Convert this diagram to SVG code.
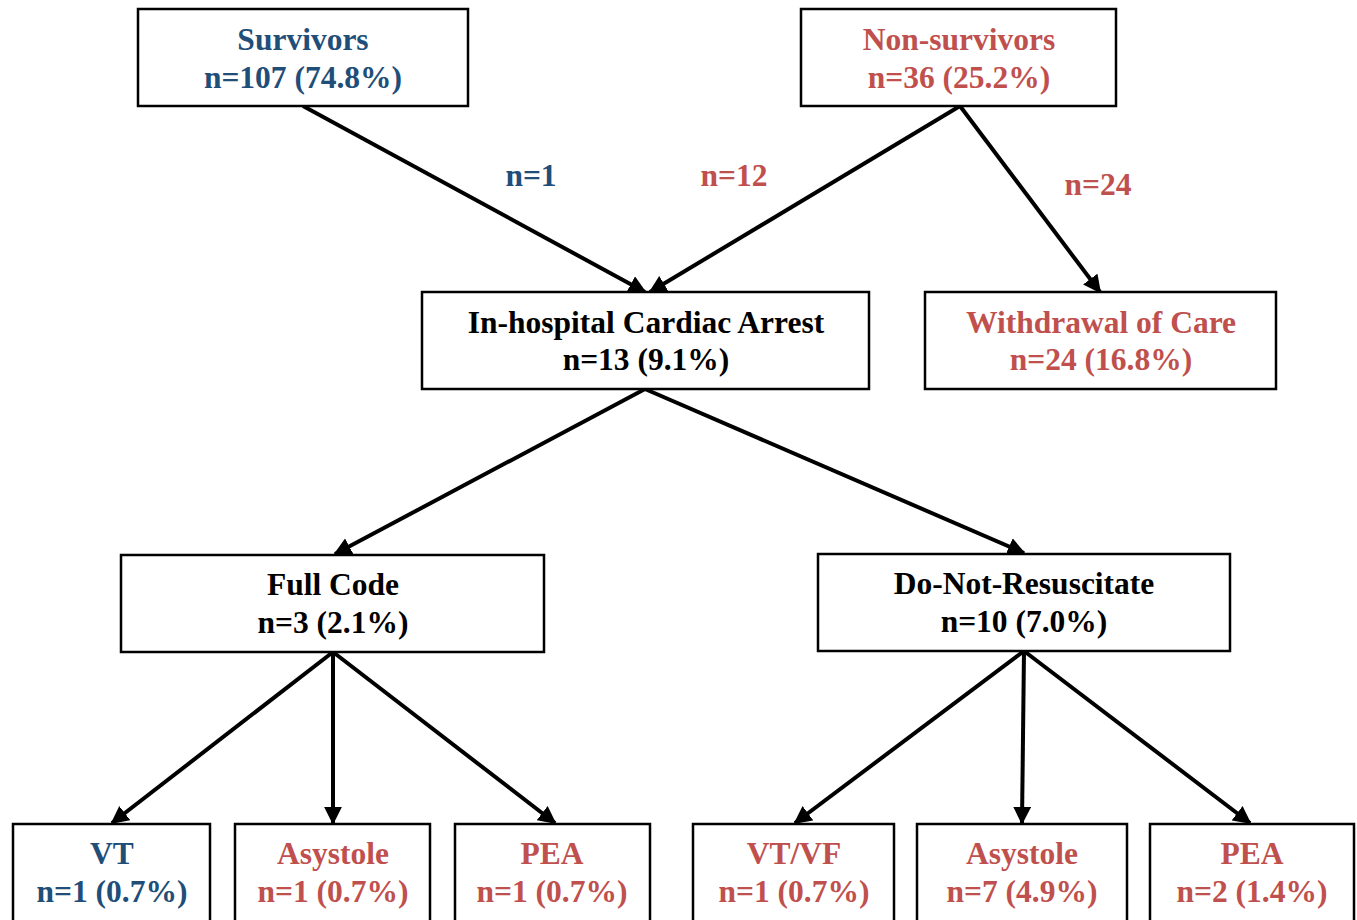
<svg xmlns="http://www.w3.org/2000/svg" width="1357" height="920" viewBox="0 0 1357 920">
<defs>
<marker id="ah" viewBox="0 0 10 10" refX="9" refY="5" markerWidth="4.5" markerHeight="4.5" orient="auto" markerUnits="strokeWidth">
<path d="M0,0 L10,5 L0,10 z" fill="#000"/>
</marker>
<style>
rect{fill:#fff;stroke:#000;stroke-width:2.5}
text{font-family:"Liberation Serif","Times New Roman",serif;font-weight:bold;font-size:31.5px;text-anchor:middle}
.b{fill:#1f4e79}
.r{fill:#c0504d}
.k{fill:#000}
#connectors line{stroke:#000;stroke-width:4;marker-end:url(#ah)}
</style>
</defs>
<rect x="0" y="0" width="1357" height="920" style="fill:#fff;stroke:none"/>
<g id="connectors">
<line x1="303" y1="106" x2="645" y2="292"/>
<line x1="960" y1="106" x2="650" y2="292"/>
<line x1="960" y1="106" x2="1100" y2="292"/>
<line x1="645" y1="389" x2="335" y2="554"/>
<line x1="645" y1="389" x2="1024" y2="553"/>
<line x1="333" y1="652" x2="112" y2="823"/>
<line x1="333" y1="652" x2="333" y2="823"/>
<line x1="333" y1="652" x2="555" y2="823"/>
<line x1="1024" y1="651" x2="795" y2="823"/>
<line x1="1024" y1="651" x2="1022" y2="823"/>
<line x1="1024" y1="651" x2="1250" y2="823"/>
<text class="b" x="531" y="186">n=1</text>
<text class="r" x="734" y="186">n=12</text>
<text class="r" x="1098" y="195">n=24</text>
</g>
<g id="survivors"><rect x="138" y="9" width="330" height="97"/><text class="b" x="303" y="50">Survivors</text><text class="b" x="303" y="88">n=107 (74.8%)</text></g>
<g id="nonsurvivors"><rect x="801" y="9" width="315" height="97"/><text class="r" x="959" y="50">Non-survivors</text><text class="r" x="959" y="88">n=36 (25.2%)</text></g>
<g id="ihca"><rect x="422" y="292" width="447" height="97"/><text class="k" x="646" y="333">In-hospital Cardiac Arrest</text><text class="k" x="646" y="370">n=13 (9.1%)</text></g>
<g id="withdrawal"><rect x="925" y="292" width="351" height="97"/><text class="r" x="1101" y="333">Withdrawal of Care</text><text class="r" x="1101" y="370">n=24 (16.8%)</text></g>
<g id="fullcode"><rect x="121" y="555" width="423" height="97"/><text class="k" x="333" y="595">Full Code</text><text class="k" x="333" y="633">n=3 (2.1%)</text></g>
<g id="dnr"><rect x="818" y="554" width="412" height="97"/><text class="k" x="1024" y="594">Do-Not-Resuscitate</text><text class="k" x="1024" y="632">n=10 (7.0%)</text></g>
<g id="vt"><rect x="13" y="824" width="197" height="110"/><text class="b" x="112" y="864">VT</text><text class="b" x="112" y="902">n=1 (0.7%)</text></g>
<g id="asys1"><rect x="235" y="824" width="195" height="110"/><text class="r" x="333" y="864">Asystole</text><text class="r" x="333" y="902">n=1 (0.7%)</text></g>
<g id="pea1"><rect x="455" y="824" width="195" height="110"/><text class="r" x="552" y="864">PEA</text><text class="r" x="552" y="902">n=1 (0.7%)</text></g>
<g id="vtvf"><rect x="693" y="824" width="201" height="110"/><text class="r" x="794" y="864">VT/VF</text><text class="r" x="794" y="902">n=1 (0.7%)</text></g>
<g id="asys2"><rect x="917" y="824" width="210" height="110"/><text class="r" x="1022" y="864">Asystole</text><text class="r" x="1022" y="902">n=7 (4.9%)</text></g>
<g id="pea2"><rect x="1150" y="824" width="204" height="110"/><text class="r" x="1252" y="864">PEA</text><text class="r" x="1252" y="902">n=2 (1.4%)</text></g>
</svg>
